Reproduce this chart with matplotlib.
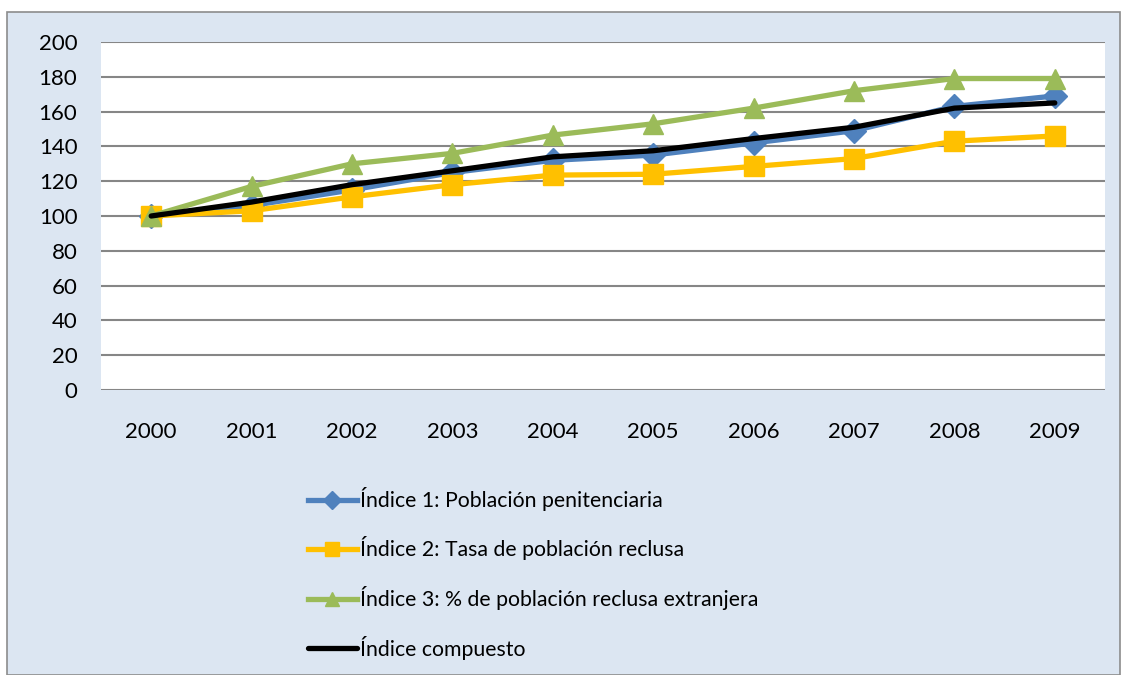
import matplotlib
matplotlib.use("Agg")
import matplotlib.pyplot as plt
from matplotlib.patches import Rectangle

years = ["2000", "2001", "2002", "2003", "2004", "2005", "2006", "2007", "2008", "2009"]
indice1 = [100, 106, 115, 125, 132, 135, 142, 149, 163, 169]
indice2 = [100, 103, 111, 118, 123.5, 124, 128.5, 133, 143, 146]
indice3 = [100, 117, 130, 136, 146.5, 153, 162, 172, 179, 179]
compuesto = [100, 108, 118, 126, 134, 137.5, 144.5, 151, 162, 165]
labels = ["Índice 1: Población penitenciaria",
          "Índice 2: Tasa de población reclusa",
          "Índice 3: % de población reclusa extranjera",
          "Índice compuesto"]
yticks = [0, 20, 40, 60, 80, 100, 120, 140, 160, 180, 200]

plt.rcParams['font.family'] = ['Lato', 'DejaVu Sans']
FS = 15.3
TFS = 16
W, H = 1122, 675
fig = plt.figure(figsize=(W/100, H/100), dpi=100)
fig.patch.set_facecolor('white')
bg = Rectangle((7/W, 0), (1120-7)/W, 1 - 12/H, transform=fig.transFigure,
               facecolor='#DCE6F2', edgecolor='#8C8C8C', linewidth=1.2, zorder=-10)
fig.add_artist(bg)

ax = fig.add_axes([101/W, 1 - 390/H, (1105-101)/W, (390-42)/H])
ax.set_zorder(1)
ax.set_facecolor('white')
x = list(range(len(years)))
ax.plot(x, indice1, color='#4F81BD', lw=3.8, marker='D', ms=12, label=labels[0], zorder=3)
ax.plot(x, indice2, color='#FFC000', lw=3.8, marker='s', ms=14, label=labels[1], zorder=4)
ax.plot(x, indice3, color='#9BBB59', lw=3.8, marker='^', ms=14, label=labels[2], zorder=5)
ax.plot(x, compuesto, color='black', lw=3.8, label=labels[3], zorder=6, solid_capstyle='round')

ax.set_xlim(-0.5, len(years) - 0.5)
ax.set_ylim(0, 200)
ax.set_yticks(yticks)
ax.set_yticklabels([str(v) for v in yticks], fontsize=TFS)
ax.set_xticks(x)
ax.set_xticklabels(years, fontsize=TFS)
ax.tick_params(axis='both', length=0, colors='black')
ax.tick_params(axis='y', pad=17)
ax.tick_params(axis='x', pad=23)
ax.grid(axis='y', color='#868686', lw=1.5, zorder=1)
ax.set_axisbelow(True)
for s in ax.spines.values():
    s.set_visible(False)

leg = fig.legend(loc='upper left', bbox_to_anchor=(308/W, 1 - 487/H), frameon=False,
                 fontsize=FS, handlelength=2.3, handletextpad=0.15, labelspacing=1.2,
                 borderaxespad=0, borderpad=0, markerscale=0.75)

fig.savefig("out.png", dpi=100, facecolor=fig.get_facecolor())
